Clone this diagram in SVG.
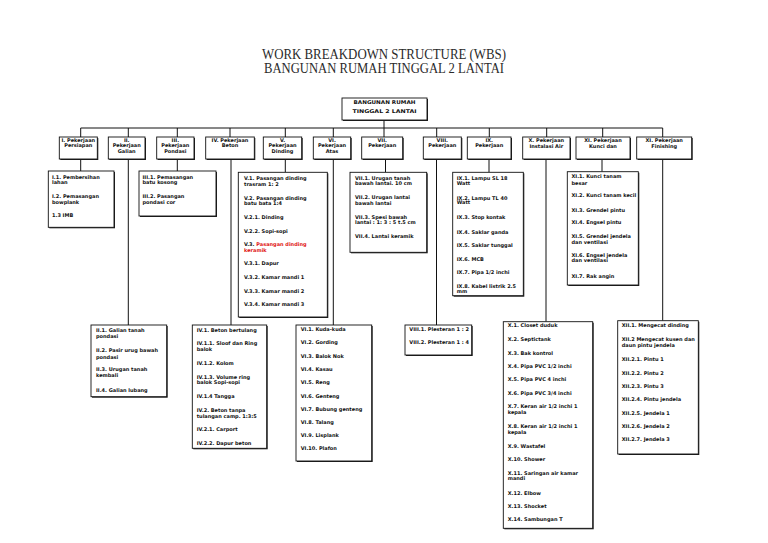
<svg xmlns="http://www.w3.org/2000/svg" width="768" height="543" viewBox="0 0 768 543">
<style>
.bg{fill:#fff}
.sh{fill:#222}
.bx{fill:#fff;stroke:#111;stroke-width:0.9}
.t{font-family:"DejaVu Sans",Verdana,sans-serif;font-weight:bold;font-size:5px;fill:#111}
.h{font-family:"DejaVu Sans",Verdana,sans-serif;font-weight:bold;font-size:5px;fill:#111;text-anchor:middle}
.ttl{font-family:"Liberation Serif","Times New Roman",serif;font-size:14px;fill:#2a2a2a;text-anchor:middle}
.red{fill:#e01515}
.ln{stroke:#111;stroke-width:1;fill:none}
</style>
<rect class="bg" width="768" height="543"/>
<g id="title">
<text class="ttl" x="384" y="58.5" textLength="244" lengthAdjust="spacingAndGlyphs">WORK BREAKDOWN STRUCTURE (WBS)</text>
<text class="ttl" x="384" y="72.5" textLength="240" lengthAdjust="spacingAndGlyphs">BANGUNAN RUMAH TINGGAL 2 LANTAI</text>
</g>
<g id="connectors">
<path class="ln" d="M384,120V128M80.7,128H662.7"/>
<path class="ln" d="M80.7,128V137M128.3,128V137M177.3,128V137M230,128V137M285.3,128V137M333.3,128V137M384,128V137M436.7,128V137M489.3,128V137M546.7,128V137M602.7,128V137M662.7,128V137"/>
<path class="ln" d="M80.7,159V171M128.3,159V325M177.3,159V171M231,159V325M285.3,159V172.3M333.3,159V325M385.5,159V172.3M436.5,159V325M489,159V172.3M546,159V321.7M602,159V171.7M662.7,159V320.7"/>
</g>
<g id="root">
<rect class="sh" x="343" y="99" width="85" height="22"/>
<rect class="bx" x="342" y="98" width="85" height="22"/>
<text class="h" x="384.5" y="103.8" textLength="62" lengthAdjust="spacingAndGlyphs">BANGUNAN RUMAH</text>
<text class="h" x="384.5" y="113" textLength="64" lengthAdjust="spacingAndGlyphs">TINGGAL 2 LANTAI</text>
</g>
<g id="h1"><rect class="sh" x="60.3" y="138" width="38" height="22"/><rect class="bx" x="59.3" y="137" width="38" height="22"/>
<text class="h" x="78.3" y="141.8">I. Pekerjaan</text><text class="h" x="78.3" y="147.3">Persiapan</text></g>
<g id="h2"><rect class="sh" x="109.3" y="138" width="36.7" height="22"/><rect class="bx" x="108.3" y="137" width="36.7" height="22"/>
<text class="h" x="126.7" y="141.8">II.</text><text class="h" x="126.7" y="147.3">Pekerjaan</text><text class="h" x="126.7" y="152.8">Galian</text></g>
<g id="h3"><rect class="sh" x="157.7" y="138" width="37.3" height="22"/><rect class="bx" x="156.7" y="137" width="37.3" height="22"/>
<text class="h" x="175.3" y="141.8">III.</text><text class="h" x="175.3" y="147.3">Pekerjaan</text><text class="h" x="175.3" y="152.8">Pondasi</text></g>
<g id="h4"><rect class="sh" x="206.7" y="138" width="48.6" height="22"/><rect class="bx" x="205.7" y="137" width="48.6" height="22"/>
<text class="h" x="230" y="141.8">IV. Pekerjaan</text><text class="h" x="230" y="147.3">Beton</text></g>
<g id="h5"><rect class="sh" x="264.3" y="138" width="38.4" height="22"/><rect class="bx" x="263.3" y="137" width="38.4" height="22"/>
<text class="h" x="282.5" y="141.8">V.</text><text class="h" x="282.5" y="147.3">Pekerjaan</text><text class="h" x="282.5" y="152.8">Dinding</text></g>
<g id="h6"><rect class="sh" x="314.3" y="138" width="37.4" height="22"/><rect class="bx" x="313.3" y="137" width="37.4" height="22"/>
<text class="h" x="332" y="141.8">VI.</text><text class="h" x="332" y="147.3">Pekerjaan</text><text class="h" x="332" y="152.8">Atas</text></g>
<g id="h7"><rect class="sh" x="362.7" y="138" width="41" height="22"/><rect class="bx" x="361.7" y="137" width="41" height="22"/>
<text class="h" x="382.2" y="141.8">VII.</text><text class="h" x="382.2" y="147.3">Pekerjaan</text></g>
<g id="h8"><rect class="sh" x="424.3" y="138" width="38" height="22"/><rect class="bx" x="423.3" y="137" width="38" height="22"/>
<text class="h" x="442.3" y="141.8">VIII.</text><text class="h" x="442.3" y="147.3">Pekerjaan</text></g>
<g id="h9"><rect class="sh" x="468.3" y="138" width="43.7" height="22"/><rect class="bx" x="467.3" y="137" width="43.7" height="22"/>
<text class="h" x="489.2" y="141.8">IX.</text><text class="h" x="489.2" y="147.3">Pekerjaan</text></g>
<g id="h10"><rect class="sh" x="523.7" y="138" width="47.3" height="22"/><rect class="bx" x="522.7" y="137" width="47.3" height="22"/>
<text class="h" x="546.3" y="141.8">X. Pekerjaan</text><text class="h" x="546.3" y="147.5">Instalasi Air</text></g>
<g id="h11"><rect class="sh" x="577" y="138" width="54" height="22"/><rect class="bx" x="576" y="137" width="54" height="22"/>
<text class="h" x="603" y="141.8">XI. Pekerjaan</text><text class="h" x="603" y="148.3">Kunci dan</text></g>
<g id="h12"><rect class="sh" x="637.7" y="138" width="55" height="22"/><rect class="bx" x="636.7" y="137" width="55" height="22"/>
<text class="h" x="664.2" y="141.8">XI. Pekerjaan</text><text class="h" x="664.2" y="148.3">Finishing</text></g>

<g id="n1"><rect class="sh" x="49.3" y="172" width="65.7" height="56.3"/><rect class="bx" x="48.3" y="171" width="65.7" height="56.3"/>
<text class="t" x="52" y="178.5">I.1. Pembersihan</text><text class="t" x="52" y="184.1">lahan</text>
<text class="t" x="52" y="197.8">I.2. Pemasangan</text><text class="t" x="52" y="203.5">bowplank</text>
<text class="t" x="52" y="216.8">1.3 IMB</text></g>
<g id="n3"><rect class="sh" x="140" y="172" width="77" height="45"/><rect class="bx" x="139" y="171" width="77" height="45"/>
<text class="t" x="142.5" y="178.5">III.1. Pemasangan</text><text class="t" x="142.5" y="184.1">batu kosong</text>
<text class="t" x="142.5" y="197.8">III.2. Pasangan</text><text class="t" x="142.5" y="203.5">pondasi cor</text></g>
<g id="n5"><rect class="sh" x="239.3" y="173.3" width="89" height="144.7"/><rect class="bx" x="238.3" y="172.3" width="89" height="144.7"/>
<text class="t" x="244" y="180.1">V.1. Pasangan dinding</text><text class="t" x="244" y="186.1">trasram 1: 2</text>
<text class="t" x="244" y="200.1">V.2. Pasangan dinding</text><text class="t" x="244" y="205.1">batu bata 1:4</text>
<text class="t" x="244" y="219.1">V.2.1. Dinding</text>
<text class="t" x="244" y="232.5">V.2.2. Sopi-sopi</text>
<text class="t" x="244" y="246.1">V.3. <tspan class="red">Pasangan dinding</tspan></text><text class="t red" x="244" y="251.8">keramik</text>
<text class="t" x="244" y="265.1">V.3.1. Dapur</text>
<text class="t" x="244" y="279.1">V.3.2. Kamar mandi 1</text>
<text class="t" x="244" y="292.5">V.3.3. Kamar mandi 2</text>
<text class="t" x="244" y="305.8">V.3.4. Kamar mandi 3</text></g>
<g id="n7"><rect class="sh" x="351" y="173.3" width="76.7" height="80"/><rect class="bx" x="350" y="172.3" width="76.7" height="80"/>
<text class="t" x="355" y="179.5">VII.1. Urugan tanah</text><text class="t" x="355" y="185.1">bawah lantai. 10 cm</text>
<text class="t" x="355" y="199.1">VII.2. Urugan lantai</text><text class="t" x="355" y="204.5">bawah lantai</text>
<text class="t" x="355" y="218.5">VII.3. Spesi bawah</text><text class="t" x="355" y="224.1">lantai : 1: 3 : 5 t.5 cm</text>
<text class="t" x="355" y="237.8">VII.4. Lantai keramik</text></g>
<g id="n9"><rect class="sh" x="453.7" y="173.3" width="70.6" height="123.4"/><rect class="bx" x="452.7" y="172.3" width="70.6" height="123.4"/>
<text class="t" x="456.7" y="180.1">IX.1. Lampu SL 18</text><text class="t" x="456.7" y="185.1">Watt</text>
<text class="t" x="456.7" y="199.5">IX.2. Lampu TL 40</text><text class="t" x="456.7" y="204.1">Watt</text>
<text class="t" x="456.7" y="219.1">IX.3. Stop kontak</text>
<text class="t" x="456.7" y="233.5">IX.4. Saklar ganda</text>
<text class="t" x="456.7" y="246.8">IX.5. Saklar tunggal</text>
<text class="t" x="456.7" y="260.8">IX.6. MCB</text>
<text class="t" x="456.7" y="274.1">IX.7. Pipa 1/2 inchi</text>
<text class="t" x="456.7" y="288.1">IX.8. Kabel listrik 2.5</text><text class="t" x="456.7" y="292.8">mm</text></g>
<g id="n11"><rect class="sh" x="568.3" y="172.7" width="71" height="113.3"/><rect class="bx" x="567.3" y="171.7" width="71" height="113.3"/>
<text class="t" x="571.5" y="177.8">XI.1. Kunci tanam</text><text class="t" x="571.5" y="185.1">besar</text>
<text class="t" x="571.5" y="196.8">XI.2. Kunci tanam kecil</text>
<text class="t" x="571.5" y="211.8">XI.3. Grendel pintu</text>
<text class="t" x="571.5" y="224.1">XI.4. Engsel pintu</text>
<text class="t" x="571.5" y="237.8">XI.5. Grendel jendela</text><text class="t" x="571.5" y="243.5">dan ventilasi</text>
<text class="t" x="571.5" y="256.8">XI.6. Engsel jendela</text><text class="t" x="571.5" y="261.8">dan ventilasi</text>
<text class="t" x="571.5" y="277.8">XI.7. Rak angin</text></g>

<g id="n2"><rect class="sh" x="92" y="326" width="75.7" height="71.7"/><rect class="bx" x="91" y="325" width="75.7" height="71.7"/>
<text class="t" x="96" y="331.8">II.1. Galian tanah</text><text class="t" x="96" y="337.5">pondasi</text>
<text class="t" x="96" y="351.8">II.2. Pasir urug bawah</text><text class="t" x="96" y="358.5">pondasi</text>
<text class="t" x="96" y="371.1">II.3. Urugan tanah</text><text class="t" x="96" y="376.8">kembali</text>
<text class="t" x="96" y="391.8">II.4. Galian lubang</text></g>
<g id="n4"><rect class="sh" x="193.3" y="326" width="74.4" height="123.3"/><rect class="bx" x="192.3" y="325" width="74.4" height="123.3"/>
<text class="t" x="196.7" y="331.8">IV.1. Beton bertulang</text>
<text class="t" x="196.7" y="345.1">IV.1.1. Sloof dan Ring</text><text class="t" x="196.7" y="350.8">balok</text>
<text class="t" x="196.7" y="365.1">IV.1.2. Kolom</text>
<text class="t" x="196.7" y="378.5">IV.1.3. Volume ring</text><text class="t" x="196.7" y="383.5">balok Sopi-sopi</text>
<text class="t" x="196.7" y="397.8">IV.1.4 Tangga</text>
<text class="t" x="196.7" y="411.8">IV.2. Beton tanpa</text><text class="t" x="196.7" y="417.5">tulangan camp. 1:3:5</text>
<text class="t" x="196.7" y="430.8">IV.2.1. Carport</text>
<text class="t" x="196.7" y="444.5">IV.2.2. Dapur beton</text></g>
<g id="n6"><rect class="sh" x="297" y="326" width="75.7" height="136"/><rect class="bx" x="296" y="325" width="75.7" height="136"/>
<text class="t" x="300.7" y="331.1">VI.1. Kuda-kuda</text>
<text class="t" x="300.7" y="344.1">VI.2. Gording</text>
<text class="t" x="300.7" y="357.5">VI.3. Balok Nok</text>
<text class="t" x="300.7" y="370.8">VI.4. Kasau</text>
<text class="t" x="300.7" y="384.1">VI.5. Reng</text>
<text class="t" x="300.7" y="397.5">VI.6. Genteng</text>
<text class="t" x="300.7" y="410.8">VI.7. Bubung genteng</text>
<text class="t" x="300.7" y="424.1">VI.8. Talang</text>
<text class="t" x="300.7" y="436.8">VI.9. Lisplank</text>
<text class="t" x="300.7" y="450.1">VI.10. Plafon</text></g>
<g id="n8"><rect class="sh" x="406" y="326" width="66.7" height="30"/><rect class="bx" x="405" y="325" width="66.7" height="30"/>
<text class="t" x="409.3" y="331.1">VIII.1. Plesteran 1 : 2</text>
<text class="t" x="409.3" y="343.5">VIII.2. Plesteran 1 : 4</text></g>
<g id="n10"><rect class="sh" x="504.3" y="322.7" width="89.4" height="206.6"/><rect class="bx" x="503.3" y="321.7" width="89.4" height="206.6"/>
<text class="t" x="507.7" y="326.8">X.1. Closet duduk</text>
<text class="t" x="507.7" y="341.1">X.2. Septictank</text>
<text class="t" x="507.7" y="354.5">X.3. Bak kontrol</text>
<text class="t" x="507.7" y="367.8">X.4. Pipa PVC 1/2 inchi</text>
<text class="t" x="507.7" y="381.1">X.5. Pipa PVC 4 inchi</text>
<text class="t" x="507.7" y="394.5">X.6. Pipa PVC 3/4 inchi</text>
<text class="t" x="507.7" y="407.5">X.7. Keran air 1/2 inchi 1</text><text class="t" x="507.7" y="413.5">kepala</text>
<text class="t" x="507.7" y="427.8">X.8. Keran air 1/2 inchi 1</text><text class="t" x="507.7" y="433.5">kepala</text>
<text class="t" x="507.7" y="447.8">X.9. Wastafel</text>
<text class="t" x="507.7" y="461.1">X.10. Shower</text>
<text class="t" x="507.7" y="474.5">X.11. Saringan air kamar</text><text class="t" x="507.7" y="479.5">mandi</text>
<text class="t" x="507.7" y="494.5">X.12. Elbow</text>
<text class="t" x="507.7" y="507.8">X.13. Shocket</text>
<text class="t" x="507.7" y="521.1">X.14. Sambungan T</text></g>
<g id="n12"><rect class="sh" x="618.7" y="321.7" width="80.6" height="133.3"/><rect class="bx" x="617.7" y="320.7" width="80.6" height="133.3"/>
<text class="t" x="621.7" y="326.8">XII.1. Mengecat dinding</text>
<text class="t" x="621.7" y="341.1">XII.2 Mengecat kusen dan</text><text class="t" x="621.7" y="346.8">daun pintu jendela</text>
<text class="t" x="621.7" y="361.1">XII.2.1. Pintu 1</text>
<text class="t" x="621.7" y="374.5">XII.2.2. Pintu 2</text>
<text class="t" x="621.7" y="387.8">XII.2.3. Pintu 3</text>
<text class="t" x="621.7" y="401.1">XII.2.4. Pintu jendela</text>
<text class="t" x="621.7" y="414.5">XII.2.5. Jendela 1</text>
<text class="t" x="621.7" y="427.8">XII.2.6. Jendela 2</text>
<text class="t" x="621.7" y="441.1">XII.2.7. Jendela 3</text></g>
</svg>
